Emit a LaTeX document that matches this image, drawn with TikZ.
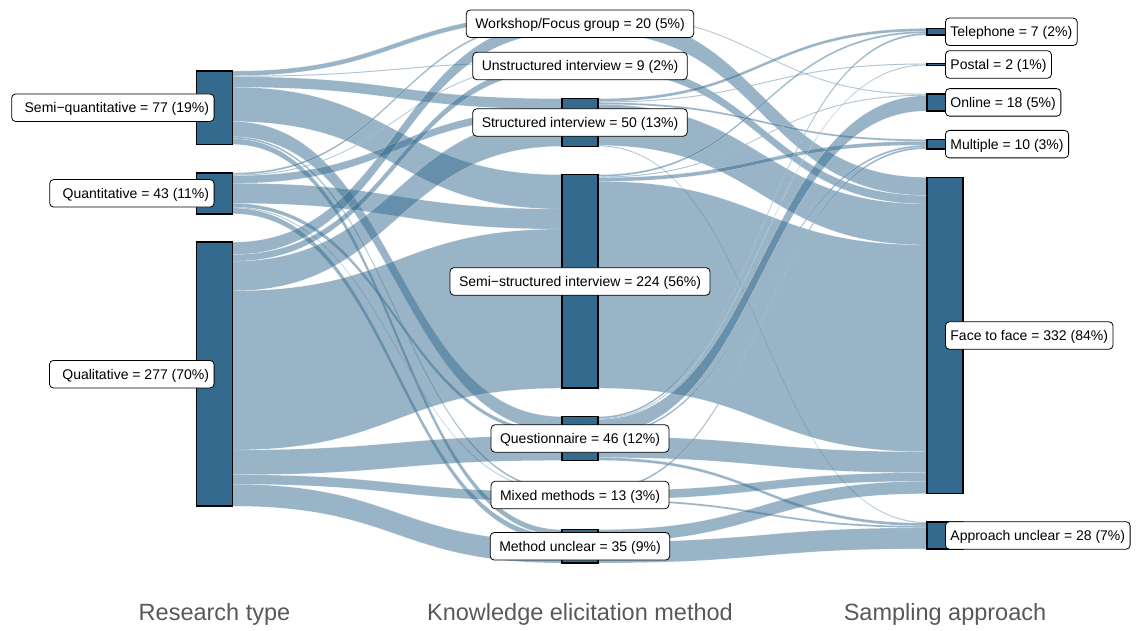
\documentclass[tikz,border=0pt]{standalone}
\usepackage{fontspec}
\setmainfont{Liberation Sans}
\usetikzlibrary{calc}
\definecolor{nodeblue}{RGB}{51,106,142}
\definecolor{axisgray}{RGB}{88,88,88}
\newcommand\kk{0.953}
\newcommand\gp{28.4}
\newcommand\colstart[1]{\pgfmathsetmacro\cury{288.6-(397*\kk+#1*\gp)/2}}
\newcommand\mkbar[3]{%
  \pgfmathsetmacro\hh{#3*\kk}%
  \node[barbox, minimum height=\hh pt, anchor=north] (#1) at (#2,\cury) {};%
  \pgfmathsetmacro\cury{\cury+\hh+\gp}%
  \expandafter\gdef\csname out#1\endcsname{0}%
  \expandafter\gdef\csname in#1\endcsname{0}%
}
\newcommand\flow[3]{%
  \pgfmathsetmacro\ww{#3*\kk}%
  \edef\oa{\csname out#1\endcsname}%
  \edef\ob{\csname in#2\endcsname}%
  \pgfmathsetmacro\oaw{\oa+\ww}%
  \pgfmathsetmacro\obw{\ob+\ww}%
  \path[flowst] ([yshift=-\oa pt]#1.north east) .. controls +(165,0) and +(-165,0) .. ([yshift=-\ob pt]#2.north west)
     -- ([yshift=-\obw pt]#2.north west) .. controls +(-165,0) and +(165,0) .. ([yshift=-\oaw pt]#1.north east) -- cycle;%
  \expandafter\xdef\csname out#1\endcsname{\oaw}%
  \expandafter\xdef\csname in#2\endcsname{\obw}%
}
\begin{document}
\begin{tikzpicture}[x=1pt,y=-1pt,
  barbox/.style={rectangle, minimum width=36pt, inner sep=0pt, outer sep=0pt},
  barst/.style={fill=nodeblue, draw=black, line width=1.5pt},
  flowst/.style={fill=nodeblue, fill opacity=0.5, draw=white, draw opacity=0.45, line width=0.3pt},
  lab/.style={draw=black, line width=0.8pt, fill=white, rounded corners=4pt,
    font=\fontsize{14}{16}\selectfont, text height=11pt, text depth=1pt, inner ysep=7.75pt},
  labL/.style={lab, anchor=east, inner xsep=5pt},
  labR/.style={lab, anchor=west, inner xsep=5pt},
  labM/.style={lab, anchor=center, inner xsep=9pt},
  axt/.style={anchor=base, font=\fontsize{23.5}{28}\selectfont, text=axisgray}]
\useasboundingbox (0,0) rectangle (1137,630);
% left column
\colstart{2}
\mkbar{SQ}{214.5}{77}
\mkbar{QT}{214.5}{43}
\mkbar{QL}{214.5}{277}
% middle column
\colstart{6}
\mkbar{WF}{580}{20}
\mkbar{UI}{580}{9}
\mkbar{SI}{580}{50}
\mkbar{SS}{580}{224}
\mkbar{QN}{580}{46}
\mkbar{MM}{580}{13}
\mkbar{MU}{580}{35}
% right column
\colstart{5}
\mkbar{TE}{945}{7}
\mkbar{PO}{945}{2}
\mkbar{ON}{945}{18}
\mkbar{MP}{945}{10}
\mkbar{FF}{945}{332}
\mkbar{AU}{945}{28}
% flows: research type -> method
\flow{SQ}{WF}{5}\flow{SQ}{UI}{1}\flow{SQ}{SI}{11}\flow{SQ}{SS}{36}\flow{SQ}{QN}{16}\flow{SQ}{MM}{2}\flow{SQ}{MU}{6}
\flow{QT}{WF}{2}\flow{QT}{UI}{1}\flow{QT}{SI}{8}\flow{QT}{SS}{21}\flow{QT}{QN}{4}\flow{QT}{MM}{1}\flow{QT}{MU}{6}
\flow{QL}{WF}{13}\flow{QL}{UI}{7}\flow{QL}{SI}{31}\flow{QL}{SS}{167}\flow{QL}{QN}{26}\flow{QL}{MM}{10}\flow{QL}{MU}{23}
% flows: method -> sampling
\flow{WF}{ON}{1}\flow{WF}{FF}{19}
\flow{UI}{FF}{9}
\flow{SI}{TE}{3}\flow{SI}{PO}{1}\flow{SI}{MP}{2}\flow{SI}{FF}{43}\flow{SI}{AU}{1}
\flow{SS}{TE}{2}\flow{SS}{ON}{1}\flow{SS}{MP}{4}\flow{SS}{FF}{217}
\flow{QN}{TE}{2}\flow{QN}{PO}{1}\flow{QN}{ON}{16}\flow{QN}{MP}{2}\flow{QN}{FF}{22}\flow{QN}{AU}{3}
\flow{MM}{MP}{2}\flow{MM}{FF}{9}\flow{MM}{AU}{2}
\flow{MU}{FF}{13}\flow{MU}{AU}{22}
% bars
\foreach \n in {SQ,QT,QL,WF,UI,SI,SS,QN,MM,MU,TE,PO,ON,MP,FF,AU}
  \draw[barst] (\n.north west) rectangle (\n.south east);
% labels
\node[labL] (lSQ) at (SQ.center) {\hspace{8pt}Semi−quantitative = 77 (19\%)};
\node[labL] (lQT) at (QT.center) {\hspace{8pt}Quantitative = 43 (11\%)};
\node[labL] (lQL) at (QL.center) {\hspace{8pt}Qualitative = 277 (70\%)};
\node[labM] (lWF) at (WF.center) {Workshop/Focus group = 20 (5\%)};
\node[labM] (lUI) at (UI.center) {Unstructured interview = 9 (2\%)};
\node[labM] (lSI) at (SI.center) {Structured interview = 50 (13\%)};
\node[labM] (lSS) at (SS.center) {Semi−structured interview = 224 (56\%)};
\node[labM] (lQN) at (QN.center) {Questionnaire = 46 (12\%)};
\node[labM] (lMM) at (MM.center) {Mixed methods = 13 (3\%)};
\node[labM] (lMU) at (MU.center) {Method unclear = 35 (9\%)};
\node[labR] (lTE) at (TE.center) {Telephone = 7 (2\%)\hspace{8pt}};
\node[labR] (lPO) at (PO.center) {Postal = 2 (1\%)\hspace{8pt}};
\node[labR] (lON) at (ON.center) {Online = 18 (5\%)\hspace{8pt}};
\node[labR] (lMP) at (MP.center) {Multiple = 10 (3\%)\hspace{8pt}};
\node[labR] (lFF) at (FF.center) {Face to face = 332 (84\%)\hspace{8pt}};
\node[labR] (lAU) at (AU.center) {Approach unclear = 28 (7\%)\hspace{8pt}};
% axis titles
\node[axt] (t1) at (214.5,620) {Research type};
\node[axt] (t2) at (580,620) {Knowledge elicitation method};
\node[axt] (t3) at (945,620) {Sampling approach};
\end{tikzpicture}
\end{document}
